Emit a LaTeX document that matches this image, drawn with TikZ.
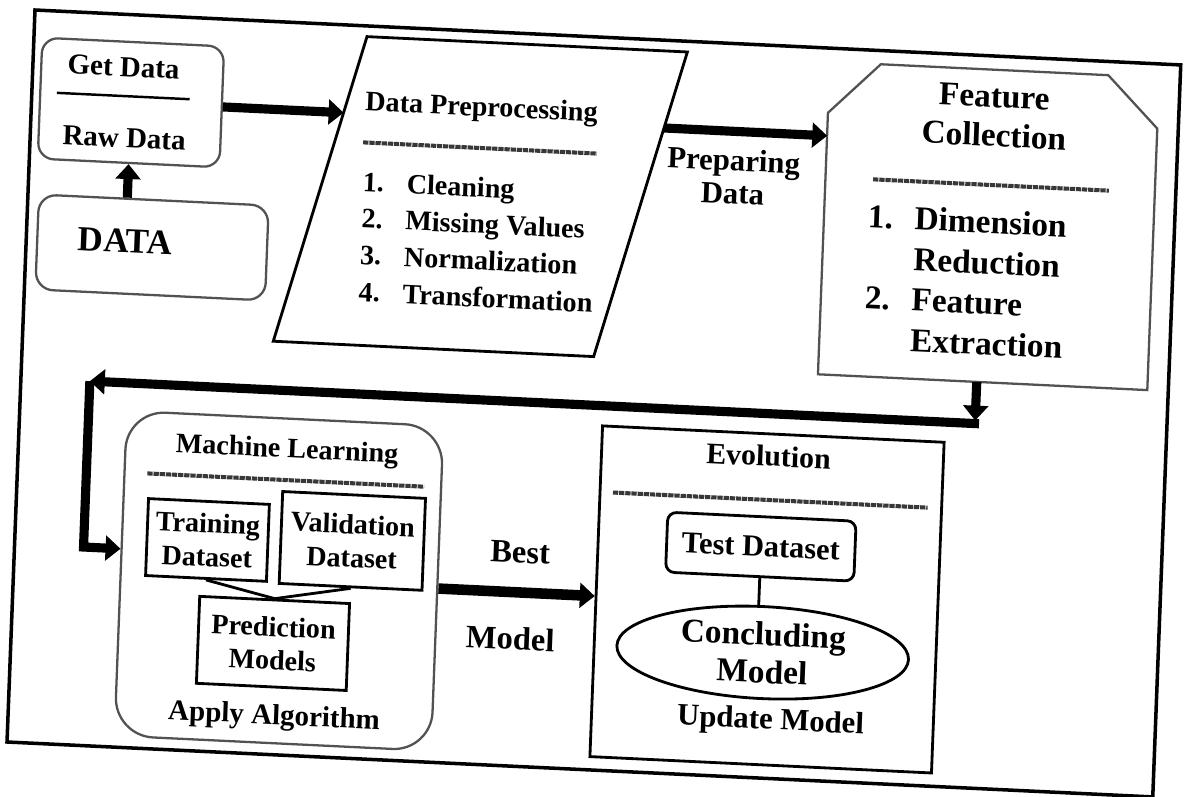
\documentclass[tikz,border=0pt]{standalone}
\usepackage{fontspec}
\setmainfont{Liberation Serif}
\usetikzlibrary{arrows.meta,calc,shapes.geometric}

\tikzset{
  fs/.style 2 args={font=\fontsize{#1}{#2}\selectfont\bfseries},
  txt/.style={inner sep=0pt, text height=0.7em, text depth=0.2em},
  outerframe/.style={draw=black, line width=2pt},
  softbox/.style={draw=black!68, line width=1.3pt, inner sep=0pt},
  inkbox/.style={draw=black, line width=1.6pt, inner sep=0pt},
  hidden/.style={draw=none, inner sep=0pt},
  rulebar/.style={draw=black!78, line width=2.3pt, dash pattern=on 3pt off 0.5pt},
  fatarrow/.style={line width=5.2pt, -{Triangle[length=8.5pt,width=14pt]}},
  link/.style={line width=1.6pt},
}

\begin{document}
\begin{tikzpicture}[x=0.02cm, y=-0.02cm]
\useasboundingbox (0,0) rectangle (1184,796);
\fill[white] (0,0) rectangle (1184,796);
\begin{scope}[cm={0.9989,-0.0479,0.0382,0.9993,(0.7cm,-0.2cm)}, transform shape]

% outer frame
\draw[outerframe] (0,0) rectangle (1147,732.5);

% --- Get Data / DATA ---
\node[softbox, rounded corners=9pt, minimum width=3.64cm, minimum height=2.42cm] (GetData) at (99.4,87.8) {};
\node[txt, fs={16.5}{19}] (tGet) at (90.8,57.7) {Get Data};
\draw[line width=1.4pt] (25,81.7) -- (158,81.7);
\node[txt, fs={16.5}{19}] (tRaw) at (94,128.6) {Raw Data};

\node[softbox, rounded corners=10pt, minimum width=4.6cm, minimum height=1.9cm] (DATA) at (126,231.6) {};
\node[txt, fs={20}{24}] (tDATA) at (99,233.4) {DATA};
\draw[fatarrow] (GetData.south |- DATA.north) -- (GetData.south);

% --- Data Preprocessing (parallelogram) ---
\node[hidden, minimum width=8.04cm, minimum height=6.16cm] (DP) at (452,165) {};
\coordinate (dpTL) at ($(DP.north west)+(82,0)$);
\coordinate (dpTR) at (DP.north east);
\coordinate (dpBR) at ($(DP.south east)+(-82,0)$);
\coordinate (dpBL) at (DP.south west);
\draw[inkbox] (dpTL) -- (dpTR) -- (dpBR) -- (dpBL) -- cycle;

\node[txt, fs={16}{19}] (tDP) at (450,80.2) {Data Preprocessing};
\draw[rulebar] (333,116.5) -- (567,116.5);
\node[txt, fs={16}{19}, anchor=west] (dp1) at (334,161) {\makebox[25pt][l]{1.}Cleaning};
\node[txt, fs={16}{19}, anchor=west] (dp2) at (334,197.5) {\makebox[25pt][l]{2.}Missing Values};
\node[txt, fs={16}{19}, anchor=west] (dp3) at (334,234) {\makebox[25pt][l]{3.}Normalization};
\node[txt, fs={16}{19}, anchor=west] (dp4) at (334,271) {\makebox[25pt][l]{4.}Transformation};

\coordinate (gaR) at ($(GetData.east)+(200,0)$);
\draw[fatarrow] (GetData.east) -- (intersection of GetData.east--gaR and dpTL--dpBL);

% --- Feature Collection (chamfered box) ---
\node[hidden, minimum width=6.58cm, minimum height=6.24cm] (Feature) at (961,170) {};
\draw[softbox] ($(Feature.north west)+(51,0)$) -- ($(Feature.north east)+(-51,0)$)
  -- ($(Feature.north east)+(0,51)$) -- (Feature.south east) -- (Feature.south west)
  -- ($(Feature.north west)+(0,51)$) -- cycle;

\node[txt, fs={19}{22}] (tFeat1) at (962,47) {Feature};
\node[txt, fs={19}{22}] (tFeat2) at (963,86) {Collection};
\draw[rulebar] (844,129) -- (1080,129);
\node[txt, fs={19}{22}, anchor=west] (fc1) at (840,173) {\makebox[26.6pt][l]{1.}Dimension};
\node[txt, fs={19}{22}, anchor=west] (fc2) at (887,213.5) {Reduction};
\node[txt, fs={19}{22}, anchor=west] (fc3) at (840,254) {\makebox[26.6pt][l]{2.}Feature};
\node[txt, fs={19}{22}, anchor=west] (fc4) at (887,294.5) {Extraction};

\node[fs={17.5}{18.7}, align=center, inner sep=0pt] (tPrep) at (704,133) {Preparing\\Data};

\coordinate (fIn) at ($(Feature.north west)+(0,74)$);
\coordinate (fInL) at ($(fIn)+(-300,0)$);
\draw[fatarrow] (intersection of fIn--fInL and dpTR--dpBR) -- (fIn);

% --- Machine Learning ---
\node[softbox, rounded corners=22pt, minimum width=6.34cm, minimum height=6.5cm] (ML) at (265.6,558.5) {};
\node[txt, fs={16}{19}] (tML) at (268.7,430.7) {Machine Learning};
\draw[rulebar] (130,457.5) -- (407,457.5);
\node[inkbox, minimum width=2.42cm, minimum height=1.54cm, align=center, fs={16}{19}] (Train) at (192.6,521.1) {Training\\Dataset};
\node[inkbox, minimum width=2.86cm, minimum height=1.84cm, align=center, fs={16}{19}] (Valid) at (337.4,515.1) {Validation\\Dataset};
\node[inkbox, minimum width=3.0cm, minimum height=1.74cm, align=center, fs={16}{19}] (Pred) at (262,621.3) {Prediction\\Models};
\draw[link] (Train.south) -- (Pred.north);
\draw[link] (Valid.south) -- (Pred.north);
\node[txt, fs={16.5}{19}] (tApply) at (265.9,697.8) {Apply Algorithm};

% return path from Feature Collection to Machine Learning
\coordinate (r1) at (955,368);
\coordinate (r0) at (r1 |- Feature.south);
\coordinate (r2) at (69,368);
\coordinate (r3) at (69,534);
\draw[fatarrow] (r0) -- ($(r1)+(0,-3)$);
\draw[fatarrow] ($(r1)+(4,0)$) -- (r2);
\draw[fatarrow] (r2) -- (r3) -- (r3 -| ML.west);

% --- Evolution ---
\node[inkbox, minimum width=6.84cm, minimum height=6.62cm] (Evo) at (754,553.7) {};
\draw[fatarrow, line width=6pt] (ML.east) -- (ML.east -| Evo.west);
\node[txt, fs={18.5}{22}] (tBest) at (505.6,524.5) {Best};
\node[txt, fs={18.5}{22}] (tModel) at (499,611.5) {Model};

\node[txt, fs={17}{20}] (tEvo) at (750.1,416) {Evolution};
\draw[rulebar] (596,454.3) -- (911,454.3);
\node[inkbox, rounded corners=5pt, minimum width=3.77cm, minimum height=1.2cm, fs={17.3}{20}] (Test) at (745.8,501.3) {Test Dataset};
\node[ellipse, inkbox, minimum width=5.84cm, minimum height=1.84cm, align=center, fs={19}{21.5}] (Conc) at (751.7,607) {Concluding\\Model};
\draw[link] (Test.south) -- (Test.south |- Conc.north);
\node[txt, fs={17.5}{20}] (tUpd) at (762.2,679) {Update Model};

\end{scope}
\end{tikzpicture}
\end{document}
